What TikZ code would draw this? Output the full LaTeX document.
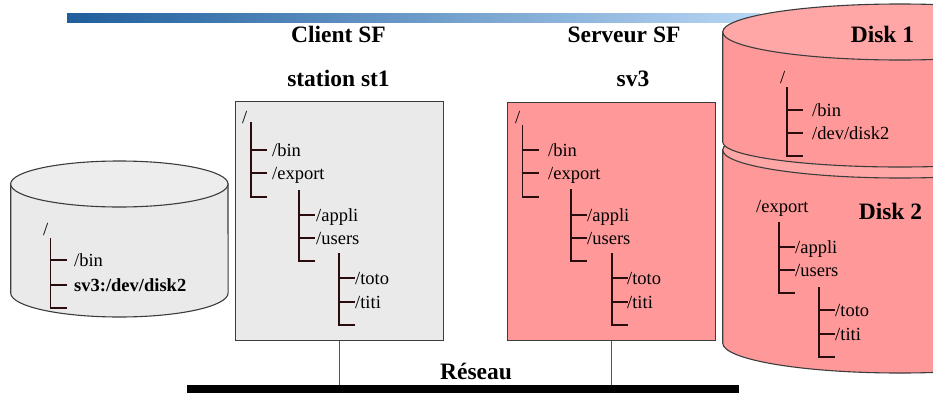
\documentclass[tikz,border=0pt]{standalone}
\usepackage{fontspec}
\setmainfont{Liberation Serif}
\definecolor{outl}{HTML}{3C3C3C}
\definecolor{treecol}{HTML}{2A0C0C}
\definecolor{grayfill}{HTML}{EAEAEA}
\definecolor{grayfilltop}{HTML}{EDEDED}
\definecolor{pinkfill}{HTML}{FF9999}
\definecolor{pinktop}{HTML}{FFA6A6}
\definecolor{barleft}{HTML}{1F5E9C}
\definecolor{barright}{HTML}{B8D6F4}
\definecolor{linkcol}{HTML}{555555}
\newcommand\fsbranch[5]{\draw[treeline] (#1,#2) -- (#1,#5) -- ++(16,0) (#1,#3) -- ++(16,0) (#1,#4) -- ++(16,0);}
\begin{document}
\begin{tikzpicture}[x=1pt,y=-1pt,
  outline/.style={draw=outl,line width=1.1pt},
  treeline/.style={draw=treecol,line width=1.2pt},
  item/.style={anchor=base west,inner sep=0pt,font=\fontsize{18.5}{20}\selectfont},
  title/.style={anchor=base,inner sep=0pt,font=\bfseries\fontsize{23.5}{26}\selectfont},
  fsbox/.style={outline,anchor=north west,inner sep=0pt,minimum width=208.2pt,minimum height=238.5pt},
  link/.style={draw=linkcol,line width=1pt}]
\useasboundingbox (0,0) rectangle (933,394);
\clip (0,0) rectangle (933,394);
% top bar
\shade[left color=barleft,right color=barright] (67,13) rectangle (760,22);
% titles
\node[title] (tclient) at (338.5,42) {Client SF};
\node[title] (tstation) at (338.5,86) {station st1};
\node[title] (tserver) at (624,42) {Serveur SF};
\node[title] (tsv) at (633,86) {sv3};
% left cylinder
\path[outline,fill=grayfill] (10.7,184) -- (10.7,293) arc[start angle=180,end angle=0,x radius=108.7,y radius=24] -- (228,184) -- cycle;
\path[outline,fill=grayfilltop] (119.35,184) ellipse[x radius=108.7,y radius=23];
\node[item] (lroot) at (43,235) {/};
\fsbranch{50.7}{238}{260}{285}{308}
\node[item] (lbin) at (74,266.5) {/bin};
\node[item,font=\bfseries\fontsize{18.5}{20}\selectfont] (lmount) at (74,291.5) {sv3:/dev/disk2};
% client box
\node[fsbox,fill=grayfill] (client) at (234.5,101) {};
\node[item] (croot) at (242,123) {/};
\fsbranch{251}{122}{150}{173}{197}
\node[item] (cbin) at (272,156.5) {/bin};
\node[item] (cexport) at (272,179.5) {/export};
\fsbranch{299}{190}{215}{238}{261}
\node[item] (cappli) at (316,221.5) {/appli};
\node[item] (cusers) at (316,244.5) {/users};
\fsbranch{339}{253}{278}{302}{325}
\node[item] (ctoto) at (355,284.5) {/toto};
\node[item] (ctiti) at (355,308.5) {/titi};
% server box
\node[fsbox,fill=pinkfill] (server) at (506.7,101.7) {};
\node[item] (sroot) at (515,123) {/};
\fsbranch{522.7}{125}{150}{173}{197}
\node[item] (sbin) at (548,156.5) {/bin};
\node[item] (sexport) at (548,179.5) {/export};
\fsbranch{571}{189}{215}{238}{261}
\node[item] (sappli) at (587,221.5) {/appli};
\node[item] (susers) at (587,244.5) {/users};
\fsbranch{612}{253}{278}{302}{325}
\node[item] (stoto) at (627,284.5) {/toto};
\node[item] (stiti) at (627,308.5) {/titi};
% disk 2
\path[outline,fill=pinkfill] (722.7,150) -- (722.7,343) arc[start angle=180,end angle=0,x radius=177.3,y radius=30] -- (1077.3,150) -- cycle;
\path[outline,fill=pinktop] (900,150) ellipse[x radius=177.3,y radius=28];
% disk 1
\path[outline,fill=pinkfill] (722.7,32) -- (722.7,142) arc[start angle=180,end angle=0,x radius=177.3,y radius=25] -- (1077.3,32) -- cycle;
\path[outline,fill=pinktop] (900,32) ellipse[x radius=177.3,y radius=28];
\node[title] (tdisk1) at (882.5,42) {Disk 1};
\node[item] (d1root) at (780,83) {/};
\fsbranch{787}{87}{110}{133}{156}
\node[item] (d1bin) at (812,116.5) {/bin};
\node[item] (d1dev) at (812,139.5) {/dev/disk2};
\node[title] (tdisk2) at (890.5,219) {Disk 2};
\node[item] (d2export) at (756,212) {/export};
\fsbranch{779}{222}{247}{270}{293}
\node[item] (d2appli) at (795,253.5) {/appli};
\node[item] (d2users) at (795,276.5) {/users};
\fsbranch{819}{287}{310}{334}{357}
\node[item] (d2toto) at (835,316.5) {/toto};
\node[item] (d2titi) at (835,340.5) {/titi};
% network
\node[fill=black,inner sep=0pt,minimum width=552.3pt,minimum height=8pt,anchor=north west] (bar) at (186.7,385) {};
\node[title] (treseau) at (476,379.5) {Réseau};
\draw[link] (client.south) -- (client.south |- bar.north);
\draw[link] (server.south) -- (server.south |- bar.north);
\end{tikzpicture}
\end{document}
